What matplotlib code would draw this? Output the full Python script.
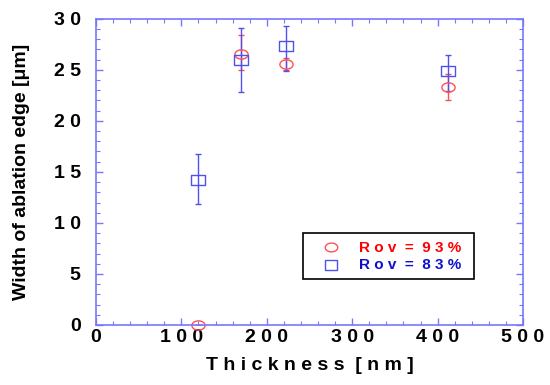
import numpy as np
import matplotlib
matplotlib.use("Agg")
import matplotlib.pyplot as plt
from matplotlib.path import Path
from matplotlib.ticker import MultipleLocator

plt.rcParams['font.family'] = ['Liberation Sans', 'DejaVu Sans']

# data
thick_93 = [120, 170, 222, 412]
width_93 = [0.0, 26.6, 25.6, 23.3]
err_lo_93 = [0.0, 1.6, 0.6, 1.3]
err_hi_93 = [0.0, 1.8, 0.6, 1.3]

thick_83 = [120, 170, 222, 412]
width_83 = [14.2, 26.0, 27.3, 24.9]
err_lo_83 = [2.3, 3.2, 2.4, 2.0]
err_hi_83 = [2.6, 3.1, 2.0, 1.6]

xticks = [0, 100, 200, 300, 400, 500]
yticks = [0, 5, 10, 15, 20, 25, 30]

def spaced(s):
    return " ".join(s)

# flattened ellipse marker and a slightly flat square
t = np.linspace(0, 2 * np.pi, 60)
ellipse = Path(np.column_stack([np.cos(t), 0.7 * np.sin(t)]), closed=True)
rect = Path([(-1, -0.8), (1, -0.8), (1, 0.8), (-1, 0.8), (-1, -0.8)], closed=True)

red = '#ff5050'
blue = '#5050ee'

fig = plt.figure(figsize=(5.5, 3.85), dpi=100)
ax = fig.add_axes([0.1745, 0.156, 0.7765, 0.795])

ax.errorbar(thick_93, width_93, yerr=[err_lo_93, err_hi_93], fmt='none',
            ecolor=red, elinewidth=1, capsize=2, capthick=1)
ax.errorbar(thick_83, width_83, yerr=[err_lo_83, err_hi_83], fmt='none',
            ecolor=blue, elinewidth=1, capsize=2, capthick=1)
ax.plot(thick_93, width_93, linestyle='none', marker=ellipse, markersize=9.5,
        markerfacecolor='none', markeredgecolor=red, markeredgewidth=1, clip_on=False)
ax.plot(thick_83, width_83, linestyle='none', marker=rect, markersize=9.5,
        markerfacecolor='none', markeredgecolor=blue, markeredgewidth=1, clip_on=False)

ax.set_xlim(0, 500)
ax.set_ylim(0, 30)
ax.set_xticks(xticks)
ax.set_yticks(yticks)
ax.set_xticklabels([spaced(str(v)) for v in xticks])
ax.set_yticklabels([spaced(str(v)) for v in yticks])
ax.xaxis.set_minor_locator(MultipleLocator(20))
ax.yaxis.set_minor_locator(MultipleLocator(1))

for sp in ax.spines.values():
    sp.set_color('#7777ff')
    sp.set_linewidth(1.2)
ax.tick_params(which='both', direction='in', top=True, right=True, color='#7777ff')
ax.tick_params(which='major', length=5, width=1, labelsize=14)
ax.tick_params(which='minor', length=3, width=0.8)
ax.tick_params(axis='y', which='major', pad=11)
ax.tick_params(axis='x', which='major', pad=3)
for lab in ax.get_xticklabels() + ax.get_yticklabels():
    lab.set_fontweight('bold')

ax.set_xlabel(spaced("Thickness") + "  " + spaced("[nm]"), fontsize=14,
              fontweight='bold', labelpad=8)
ax.set_ylabel("Width of ablation edge [\u03bcm]", fontsize=14, fontweight='bold', labelpad=17)

# legend box
lx0, ly0, lx1, ly1 = 0.485, 0.15, 0.885, 0.30
ax.add_patch(plt.Rectangle((lx0, ly0), lx1 - lx0, ly1 - ly0, transform=ax.transAxes,
                           facecolor='white', edgecolor='black', linewidth=1.2))
ax.plot([lx0 + 0.065], [ly0 + 0.105], transform=ax.transAxes, linestyle='none',
        marker=ellipse, markersize=9, markerfacecolor='none', markeredgecolor=red)
ax.plot([lx0 + 0.065], [ly0 + 0.047], transform=ax.transAxes, linestyle='none',
        marker=rect, markersize=9, markerfacecolor='none', markeredgecolor=blue)
ax.text(lx0 + 0.13, ly0 + 0.103, "R o v  =  9 3 %", transform=ax.transAxes,
        color='#ff0000', fontsize=11, fontweight='bold', va='center')
ax.text(lx0 + 0.13, ly0 + 0.045, "R o v  =  8 3 %", transform=ax.transAxes,
        color='#1010cc', fontsize=11, fontweight='bold', va='center')

fig.savefig("out.png", dpi=100)
